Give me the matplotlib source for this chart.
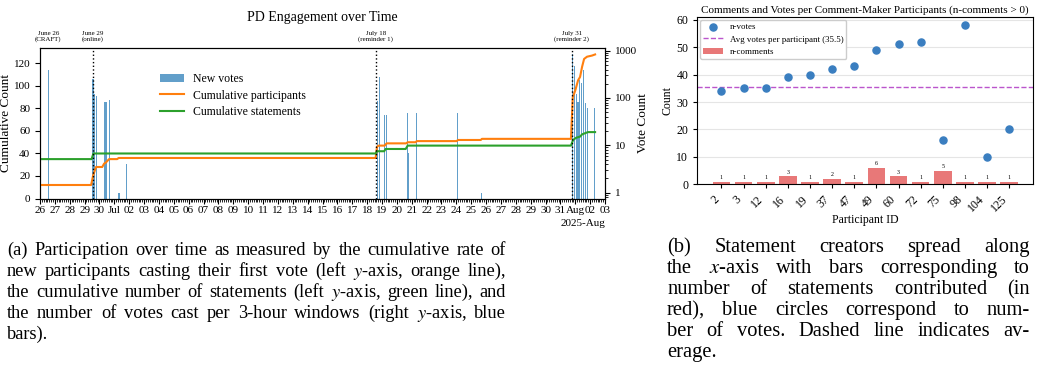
import numpy as np
import pandas as pd
import matplotlib
matplotlib.use("Agg")
import matplotlib.pyplot as plt
import matplotlib.dates as mdates
import matplotlib.ticker as mticker
import matplotlib.transforms as mtransforms

plt.rcParams["font.family"] = ["Liberation Serif", "DejaVu Serif"]
plt.rcParams["mathtext.fontset"] = "stix"

# ---- (a) engagement over time ----
vote_times = [
    "2025-06-26 13:30", "2025-06-29 13:30", "2025-06-29 16:30", "2025-06-29 19:30",
    "2025-06-30 07:30", "2025-06-30 10:30", "2025-06-30 16:30", "2025-07-01 07:30",
    "2025-07-01 19:30", "2025-07-18 16:30", "2025-07-18 19:30", "2025-07-19 04:30",
    "2025-07-19 07:30", "2025-07-20 16:30", "2025-07-20 19:30", "2025-07-21 07:30",
    "2025-07-24 01:30", "2025-07-25 16:30", "2025-07-31 19:30", "2025-07-31 22:30",
    "2025-08-01 01:30", "2025-08-01 04:30", "2025-08-01 07:30", "2025-08-01 10:30",
    "2025-08-01 13:30", "2025-08-01 16:30", "2025-08-01 19:30", "2025-08-02 07:30",
]
vote_counts = [
    393, 253, 122, 110, 84, 84, 91, 1, 4, 87, 283, 44, 44, 49, 7, 49, 49, 1,
    850, 480, 120, 82, 241, 212, 393, 78, 61, 61,
]

part_times = [
    "2025-06-26 00:00", "2025-06-29 10:30", "2025-06-29 14:00", "2025-06-29 18:30",
    "2025-06-30 04:30", "2025-06-30 07:30", "2025-06-30 10:30", "2025-06-30 12:00",
    "2025-06-30 15:30", "2025-07-01 04:30", "2025-07-01 07:00", "2025-07-18 13:45",
    "2025-07-18 16:00", "2025-07-18 18:45", "2025-07-19 04:30", "2025-07-19 07:30",
    "2025-07-20 15:00", "2025-07-20 17:30", "2025-07-21 06:30", "2025-07-21 08:00",
    "2025-07-24 00:45", "2025-07-24 02:30", "2025-07-25 15:30", "2025-07-25 17:15",
    "2025-07-31 17:00", "2025-07-31 20:00", "2025-08-01 00:00", "2025-08-01 04:30",
    "2025-08-01 07:45", "2025-08-01 11:00", "2025-08-01 14:15", "2025-08-01 19:00",
    "2025-08-02 03:00", "2025-08-02 08:00",
]
part_counts = [
    12, 12, 21, 28, 28, 31, 32, 33, 35, 35, 36, 36, 46, 47, 47, 49, 49, 50,
    50, 51, 51, 52, 52, 53, 53, 90, 96, 105, 108, 117, 124, 126, 127, 128,
]

stmt_times = [
    "2025-06-26 00:00", "2025-06-29 11:15", "2025-06-29 14:15", "2025-07-18 13:45",
    "2025-07-18 16:00", "2025-07-19 03:30", "2025-07-19 06:00", "2025-07-20 14:15",
    "2025-07-20 17:30", "2025-07-31 17:00", "2025-07-31 20:30", "2025-08-01 01:30",
    "2025-08-01 07:45", "2025-08-01 11:00", "2025-08-01 15:45", "2025-08-01 20:30",
    "2025-08-02 08:00",
]
stmt_counts = [35, 35, 40, 40, 42, 42, 44, 44, 47, 47, 52, 54, 55, 57, 58, 59, 59]

event_times = ["2025-06-26 13:30", "2025-06-29 13:40", "2025-07-18 14:15", "2025-07-31 18:15"]
event_labels = ["June 26\n(CRAFT)", "June 29\n(online)", "July 18\n(reminder 1)", "July 31\n(reminder 2)"]
event_lines = [False, True, True, True]

# ---- (b) comment makers ----
participant_ids = ["2", "3", "12", "16", "19", "37", "47", "49", "60", "72", "75", "98", "104", "125"]
n_votes = [34, 35, 35, 39, 40, 42, 43, 49, 51, 52, 16, 58, 10, 20]
n_comments = [1, 1, 1, 3, 1, 2, 1, 6, 3, 1, 5, 1, 1, 1]
avg_votes = 35.5

caption_a = [
    "(a) Participation over time as measured by the cumulative rate of",
    "new participants casting their first vote (left $y$-axis, orange line),",
    "the cumulative number of statements (left $y$-axis, green line), and",
    "the number of votes cast per 3-hour windows (right $y$-axis, blue",
    "bars).",
]
caption_b = [
    "(b) Statement creators spread along",
    "the $x$-axis with bars corresponding to",
    "number of statements contributed (in",
    "red), blue circles correspond to num-",
    "ber of votes. Dashed line indicates av-",
    "erage.",
]

W, H = 1037, 391
fig = plt.figure(figsize=(W / 100, H / 100), dpi=100)


def px_rect(left, top, right, bottom):
    return [left / W, 1 - bottom / H, (right - left) / W, (bottom - top) / H]


ax1 = fig.add_axes(px_rect(40, 47.7, 605, 198.5))
ax2 = ax1.twinx()

vt = pd.to_datetime(vote_times)
bars = ax2.bar(vt, vote_counts, width=0.075, color="tab:blue", alpha=0.7, label="New votes")
ax2.set_yscale("log")
ax2.set_ylim(0.75, 1157)
ax2.yaxis.set_major_formatter(mticker.FuncFormatter(lambda v, p: f"{v:g}"))
ax2.set_ylabel("Vote Count", fontsize=9.5)
ax2.yaxis.set_label_coords(1.057, 0.5)
ax2.tick_params(labelsize=8)

l1, = ax1.plot(pd.to_datetime(part_times), part_counts, color="tab:orange", lw=1.5,
               label="Cumulative participants")
l2, = ax1.plot(pd.to_datetime(stmt_times), stmt_counts, color="tab:green", lw=1.5,
               label="Cumulative statements")
ax1.set_zorder(ax2.get_zorder() + 1)
ax1.patch.set_visible(False)
ax1.set_ylim(0, 134)
ax1.set_yticks(range(0, 121, 20))
ax1.set_ylabel("Cumulative Count", fontsize=9.5)
ax1.yaxis.set_label_coords(-0.05, 0.5)
ax1.tick_params(labelsize=8)

ax1.set_xlim(pd.Timestamp("2025-06-26"), pd.Timestamp("2025-08-03"))
loc = mdates.DayLocator()
ax1.xaxis.set_major_locator(loc)
ax1.xaxis.set_major_formatter(mdates.ConciseDateFormatter(loc))
ax1.xaxis.set_minor_locator(mdates.HourLocator(byhour=range(0, 24, 3)))
ax1.tick_params(axis="x", which="major", length=3.5, pad=2)
ax1.tick_params(axis="x", which="minor", length=2)
ax1.xaxis.get_offset_text().set_fontsize(8)

trans = mtransforms.blended_transform_factory(ax1.transData, ax1.transAxes)
for t, lab, has_line in zip(event_times, event_labels, event_lines):
    ts = pd.Timestamp(t)
    if has_line:
        ax1.axvline(ts, color="black", ls=":", lw=1)
    ax1.text(ts, 1.04, lab, transform=trans, ha="center", va="bottom",
             fontsize=5, linespacing=1.0)

ax1.set_title("PD Engagement over Time", fontsize=10, pad=19)
ax1.legend([bars, l1, l2], ["New votes", "Cumulative participants", "Cumulative statements"],
           loc="upper left", bbox_to_anchor=(0.2, 0.88), frameon=False, fontsize=8.5,
           handlelength=2.0, borderaxespad=0.2, labelspacing=0.4)

# ---- right panel ----
ax3 = fig.add_axes(px_rect(697.3, 17.3, 1033.3, 184.3))
x = np.arange(len(participant_ids))
cbars = ax3.bar(x, n_comments, width=0.8, color="#e87878", zorder=2)
sc = ax3.scatter(x, n_votes, s=26, color="#3a7ec0", zorder=3)
avg_line = ax3.axhline(avg_votes, ls="--", color="#bb55cc", lw=1, zorder=2)
ax3.bar_label(cbars, fontsize=4.3, padding=1)
ax3.set_ylim(0, 60.9)
ax3.set_xticks(x, participant_ids, rotation=45, ha="right")
ax3.tick_params(labelsize=8.5, length=3)
ax3.grid(axis="y", color="#e5e5e5", lw=0.8)
ax3.set_axisbelow(True)
ax3.set_xlabel("Participant ID", fontsize=8.5, labelpad=0)
ax3.set_ylabel("Count", fontsize=8.5)
ax3.yaxis.set_label_coords(-0.072, 0.5)
ax3.set_title("Comments and Votes per Comment-Maker Participants (n-comments > 0)",
              fontsize=8, pad=3)
ax3.legend([sc, avg_line, cbars],
           ["n-votes", f"Avg votes per participant ({avg_votes})", "n-comments"],
           loc="upper left", fontsize=6.4, framealpha=1, edgecolor="#cccccc",
           borderpad=0.35, labelspacing=0.45, borderaxespad=0.3, handlelength=2.2)

# ---- captions, justified word by word ----
fig.canvas.draw()
renderer = fig.canvas.get_renderer()


def caption(lines, x0, x1, base0, step, size):
    for i, line in enumerate(lines):
        y = 1 - (base0 + i * step) / H
        words = line.split(" ")
        texts = [fig.text(0, y, w, fontsize=size, va="baseline") for w in words]
        widths = [t.get_window_extent(renderer).width for t in texts]
        if i == len(lines) - 1 or len(words) == 1:
            gap = 0.25 * size * 100 / 72
        else:
            gap = (x1 - x0 - sum(widths)) / (len(words) - 1)
        pos = x0
        for t, w in zip(texts, widths):
            t.set_x(pos / W)
            pos += w + gap


caption(caption_a, 7, 506, 255, 21.1, 13.2)
caption(caption_b, 667, 1030, 252, 21.0, 14.8)

fig.savefig("out.png", dpi=100)
